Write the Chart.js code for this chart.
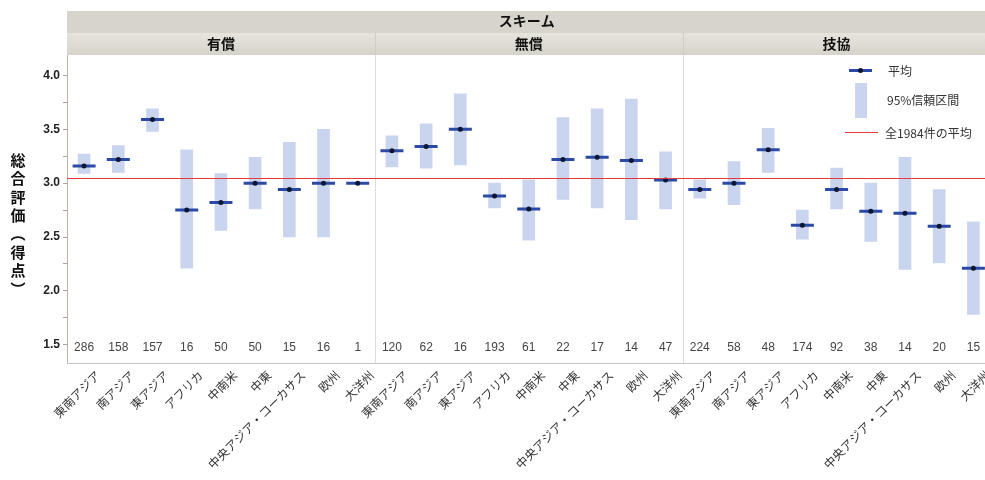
<!DOCTYPE html>
<html lang="ja">
<head>
<meta charset="utf-8">
<style>
  html, body { margin: 0; padding: 0; overflow: hidden; background: #fff; }
  #wrap { position: relative; width: 1005px; height: 480px; }
</style>
</head>
<body>
<div id="wrap"><canvas id="myChart"></canvas></div>
<script src="https://cdn.jsdelivr.net/npm/chart.js@4.4.1/dist/chart.umd.min.js"></script>
<script>
const regions = ["東南アジア", "南アジア", "東アジア", "アフリカ", "中南米", "中東", "中央アジア・コーカサス", "欧州", "大洋州"];
const schemes = ["有償", "無償", "技協"];

const yushoMean = [3.16, 3.22, 3.59, 2.75, 2.82, 3.0, 2.94, 3.0, 3.0];
const yushoLow = [3.09, 3.1, 3.48, 2.21, 2.56, 2.76, 2.5, 2.5, null];
const yushoHigh = [3.27, 3.35, 3.69, 3.31, 3.09, 3.24, 3.38, 3.5, null];
const yushoN = [286, 158, 157, 16, 50, 50, 15, 16, 1];

const mushoMean = [3.3, 3.34, 3.5, 2.88, 2.76, 3.22, 3.24, 3.21, 3.03];
const mushoLow = [3.15, 3.14, 3.17, 2.77, 2.47, 2.85, 2.77, 2.66, 2.76];
const mushoHigh = [3.44, 3.55, 3.83, 3.0, 3.03, 3.61, 3.69, 3.78, 3.29];
const mushoN = [120, 62, 16, 193, 61, 22, 17, 14, 47];

const gikyoMean = [2.94, 3.0, 3.31, 2.61, 2.94, 2.74, 2.72, 2.6, 2.21];
const gikyoLow = [2.86, 2.8, 3.1, 2.48, 2.76, 2.46, 2.2, 2.26, 1.78];
const gikyoHigh = [3.03, 3.2, 3.51, 2.75, 3.14, 3.0, 3.24, 2.94, 2.64];
const gikyoN = [224, 58, 48, 174, 92, 38, 14, 20, 15];

const overallMean = 3.05;
const yTicks = [1.5, 2.0, 2.5, 3.0, 3.5, 4.0];

const labels = [...regions, ...regions, ...regions];
const means = [...yushoMean, ...mushoMean, ...gikyoMean];
const lows = [...yushoLow, ...mushoLow, ...gikyoLow];
const highs = [...yushoHigh, ...mushoHigh, ...gikyoHigh];
const counts = [...yushoN, ...mushoN, ...gikyoN];
const ciRanges = lows.map((lo, i) => (lo === null ? null : [lo, highs[i]]));

const jpFont = '"Noto Sans CJK JP", "Noto Sans", sans-serif';
const numFont = '"Liberation Sans", Arial, sans-serif';
const ciColor = "#c9d5ee";
const meanColor = "#2b4aa6";

const panelPlugin = {
  id: "panels",
  beforeDatasetsDraw(chart) {
    const { ctx, chartArea: a, scales: { x } } = chart;
    ctx.save();
    // panel separators
    ctx.strokeStyle = "#dcdcdc";
    ctx.lineWidth = 1;
    [9, 18].forEach((i) => {
      const px = Math.round((x.getPixelForValue(i - 1) + x.getPixelForValue(i)) / 2) + 0.5;
      ctx.beginPath();
      ctx.moveTo(px, 33);
      ctx.lineTo(px, a.bottom);
      ctx.stroke();
    });
    // sample sizes
    ctx.fillStyle = "#444";
    ctx.font = "12px " + numFont;
    ctx.textAlign = "center";
    ctx.textBaseline = "middle";
    counts.forEach((n, i) => {
      ctx.fillText(String(n), x.getPixelForValue(i), a.bottom - 15);
    });
    ctx.restore();
  },
  afterDatasetsDraw(chart) {
    const { ctx, chartArea: a, scales: { y } } = chart;
    const py = Math.round(y.getPixelForValue(overallMean)) + 0.5;
    ctx.save();
    ctx.strokeStyle = "#e8383a";
    ctx.lineWidth = 1.2;
    ctx.beginPath();
    ctx.moveTo(a.left, py);
    ctx.lineTo(a.right, py);
    ctx.stroke();
    ctx.restore();
  },
  afterDraw(chart) {
    const { ctx, chartArea: a, scales: { x } } = chart;
    ctx.save();
    // header bands
    ctx.fillStyle = "#d6d4cb";
    ctx.fillRect(a.left, 11, a.right - a.left, 22);
    const g = ctx.createLinearGradient(0, 33, 0, 55);
    g.addColorStop(0, "#e6e4dd");
    g.addColorStop(1, "#d5d3ca");
    ctx.fillStyle = g;
    ctx.fillRect(a.left, 33, a.right - a.left, 22);
    ctx.fillStyle = "#111";
    ctx.textAlign = "center";
    ctx.textBaseline = "middle";
    ctx.font = "bold 14px " + jpFont;
    ctx.fillText("スキーム", (a.left + a.right) / 2 - 2, 21);
    schemes.forEach((s, k) => {
      const cx = (x.getPixelForValue(k * 9) + x.getPixelForValue(k * 9 + 8)) / 2;
      ctx.fillText(s, cx, 44);
    });
    ctx.strokeStyle = "#cfcdc4";
    [9, 18].forEach((i) => {
      const px = Math.round((x.getPixelForValue(i - 1) + x.getPixelForValue(i)) / 2) + 0.5;
      ctx.beginPath();
      ctx.moveTo(px, 33);
      ctx.lineTo(px, 55);
      ctx.stroke();
    });

    // vertical y-axis title
    const title = ["総", "合", "評", "価", "︵", "得", "点", "︶"];
    ctx.font = "bold 15px " + jpFont;
    ctx.fillStyle = "#111";
    title.forEach((c, i) => ctx.fillText(c, 18, 160 + i * 18.4));

    // legend
    ctx.strokeStyle = meanColor;
    ctx.lineWidth = 3;
    ctx.beginPath();
    ctx.moveTo(849, 70.5);
    ctx.lineTo(872, 70.5);
    ctx.stroke();
    ctx.fillStyle = "#0d1530";
    ctx.beginPath();
    ctx.arc(860.5, 70.5, 2.5, 0, Math.PI * 2);
    ctx.fill();
    ctx.fillStyle = ciColor;
    ctx.fillRect(855, 83, 12, 35);
    ctx.strokeStyle = "#e8383a";
    ctx.lineWidth = 1.2;
    ctx.beginPath();
    ctx.moveTo(845, 132.5);
    ctx.lineTo(878, 132.5);
    ctx.stroke();
    ctx.fillStyle = "#333";
    ctx.textAlign = "left";
    ctx.font = "12px " + jpFont;
    ctx.fillText("平均", 888, 71);
    ctx.fillText("95%信頼区間", 887, 100);
    ctx.fillText("全1984件の平均", 885, 133);
    ctx.restore();
  },
};

const chartDraw = document.getElementById("myChart").getContext("2d");
const chart = new Chart(chartDraw, {
  type: "bar",
  data: {
    labels: labels,
    datasets: [
      {
        type: "line",
        label: "平均",
        data: means,
        showLine: false,
        pointStyle: "circle",
        pointRadius: 2.5,
        pointBackgroundColor: "#0d1530",
        pointBorderWidth: 0,
        order: 1,
      },
      {
        type: "line",
        label: "平均線",
        data: means,
        showLine: false,
        pointStyle: "line",
        pointRadius: 11.5,
        pointBorderColor: meanColor,
        pointBorderWidth: 3,
        order: 2,
      },
      {
        label: "95%信頼区間",
        data: ciRanges,
        backgroundColor: ciColor,
        borderWidth: 0,
        barThickness: 12,
        order: 3,
      },
    ],
  },
  options: {
    responsive: true,
    maintainAspectRatio: false,
    animation: false,
    devicePixelRatio: 1,
    layout: { padding: { top: 55, left: 0, right: 0, bottom: 0 } },
    plugins: { legend: { display: false }, tooltip: { enabled: false } },
    scales: {
      x: {
        grid: { display: false },
        border: { display: true, color: "#c8c4bf" },
        ticks: {
          autoSkip: false,
          minRotation: 45,
          maxRotation: 45,
          padding: -3,
          labelOffset: 14,
          color: "#333",
          font: { family: jpFont, size: 12 },
        },
        afterFit: (s) => {
          s.height = 117;
        },
      },
      y: {
        min: 1.33,
        max: 4.19,
        grid: { drawOnChartArea: false, tickLength: 4, color: "#a9a39e" },
        border: { display: true, color: "#b9b1aa" },
        ticks: {
          stepSize: 0.25,
          includeBounds: false,
          padding: 3,
          color: "#222",
          font: { family: numFont, size: 12, weight: "bold" },
          callback: (v) => (yTicks.some((t) => Math.abs(t - v) < 1e-6) ? v.toFixed(1) : ""),
        },
        afterFit: (s) => {
          s.width = 67;
        },
      },
    },
  },
  plugins: [panelPlugin],
});
</script>
</body>
</html>
